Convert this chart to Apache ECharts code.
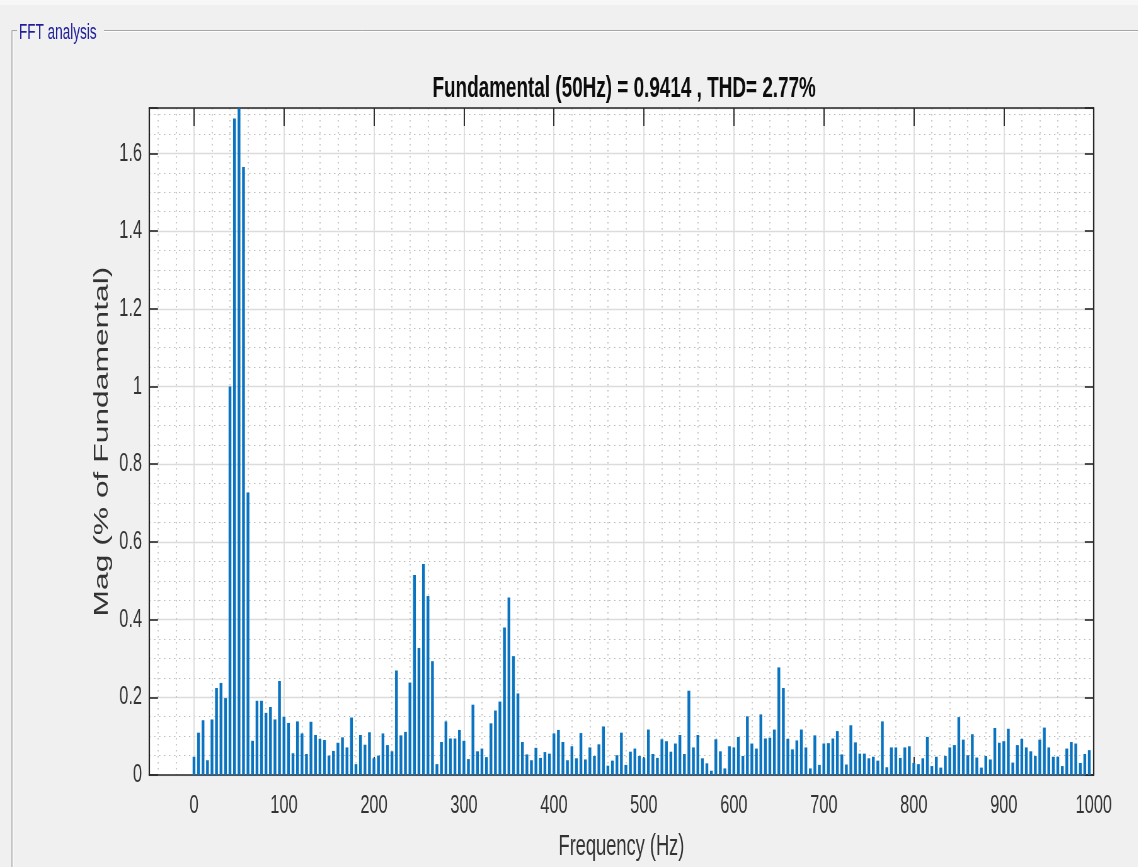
<!DOCTYPE html>
<html>
<head>
<meta charset="utf-8">
<script src="https://cdn.jsdelivr.net/npm/echarts@6/dist/echarts.min.js"></script>
<style>
  html, body { margin: 0; padding: 0; background: #f0f0f0; overflow: hidden; width: 1138px; height: 867px; }
  #chart { position: absolute; left: 0; top: 0; height: 867px; transform-origin: 0 0; }
</style>
</head>
<body>
<div id="chart"></div>
<script>
// FFT magnitude spectrum (% of fundamental), one value per 5 Hz bin, grouped per 100 Hz
const binHz = 5;
const mag000 = [0.047, 0.109, 0.141, 0.038, 0.143, 0.224, 0.237, 0.198, 1.000, 1.690, 1.717, 1.565, 0.727, 0.088, 0.191, 0.191, 0.160, 0.175, 0.143, 0.242];
const mag100 = [0.150, 0.134, 0.056, 0.138, 0.107, 0.054, 0.137, 0.103, 0.093, 0.090, 0.050, 0.062, 0.083, 0.097, 0.071, 0.148, 0.028, 0.103, 0.078, 0.110];
const mag200 = [0.043, 0.050, 0.107, 0.077, 0.061, 0.269, 0.102, 0.111, 0.238, 0.515, 0.327, 0.543, 0.461, 0.293, 0.028, 0.085, 0.138, 0.094, 0.094, 0.116];
const mag300 = [0.088, 0.041, 0.181, 0.061, 0.068, 0.046, 0.133, 0.166, 0.189, 0.380, 0.457, 0.306, 0.210, 0.085, 0.053, 0.038, 0.070, 0.044, 0.059, 0.055];
const mag400 = [0.107, 0.116, 0.085, 0.038, 0.074, 0.043, 0.108, 0.040, 0.071, 0.049, 0.079, 0.125, 0.024, 0.037, 0.051, 0.109, 0.026, 0.060, 0.068, 0.049];
const mag500 = [0.043, 0.117, 0.054, 0.044, 0.092, 0.087, 0.060, 0.081, 0.103, 0.054, 0.217, 0.071, 0.103, 0.043, 0.030, 0.011, 0.092, 0.061, 0.017, 0.074];
const mag600 = [0.071, 0.098, 0.049, 0.151, 0.081, 0.068, 0.156, 0.094, 0.096, 0.117, 0.277, 0.224, 0.093, 0.066, 0.089, 0.117, 0.071, 0.017, 0.102, 0.026];
const mag700 = [0.081, 0.082, 0.094, 0.113, 0.053, 0.027, 0.128, 0.084, 0.055, 0.055, 0.043, 0.047, 0.037, 0.138, 0.020, 0.071, 0.071, 0.044, 0.071, 0.074];
const mag800 = [0.031, 0.028, 0.043, 0.098, 0.023, 0.047, 0.019, 0.049, 0.071, 0.077, 0.149, 0.091, 0.051, 0.105, 0.045, 0.019, 0.049, 0.040, 0.121, 0.083];
const mag900 = [0.087, 0.119, 0.032, 0.077, 0.093, 0.071, 0.061, 0.049, 0.091, 0.122, 0.071, 0.047, 0.047, 0.023, 0.068, 0.085, 0.081, 0.031, 0.054, 0.064];

// Axis limits and tick steps
const xMin = -50, xMax = 1000, xStep = 100;
const yStep = 0.2;

const titleText = 'Fundamental (50Hz) = 0.9414 , THD= 2.77%';
const xName = 'Frequency (Hz)';
const yName = 'Mag (% of Fundamental)';
const panelTitle = 'FFT analysis';

const mag = [].concat(mag000, mag100, mag200, mag300, mag400, mag500, mag600, mag700, mag800, mag900);
const spectrum = mag.map((m, i) => [i * binHz, m]);
const yMax = Math.max.apply(null, mag);

// The figure is drawn on a wider canvas and compressed horizontally to the window width
const S = 0.63;
const W = Math.round(1138 / S);
const px = v => v / S;

const el = document.getElementById('chart');
el.style.width = W + 'px';
el.style.transform = 'scaleX(' + S + ')';

const FONT = '"Liberation Sans", Arial, Helvetica, sans-serif';
const DARK = '#262626';
const GRID = '#dcdcdc';
const MINOR = '#bababa';

const chart = echarts.init(el, null, { renderer: 'canvas', width: W, height: 867 });

const yFmt = v => {
  const k = v / yStep;
  if (Math.abs(k - Math.round(k)) > 1e-6) return '';
  return String(Math.round(v * 10) / 10);
};

chart.setOption({
  animation: false,
  backgroundColor: '#f0f0f0',
  textStyle: { fontFamily: FONT },
  title: {
    text: titleText,
    left: px(621),
    textAlign: 'center',
    top: 69,
    textStyle: { fontFamily: FONT, fontSize: 30, fontWeight: 'bold', color: '#0d0d0d' }
  },
  grid: {
    left: px(149), right: px(44), top: 108, bottom: 92,
    show: true, backgroundColor: '#ffffff', borderWidth: 0
  },
  xAxis: [
    {
      type: 'value', position: 'bottom', min: xMin, max: xMax,
      minInterval: xStep, maxInterval: xStep,
      axisLine: { show: true, onZero: false, lineStyle: { color: DARK, width: 1.6 } },
      axisTick: { show: true, inside: true, length: 18, lineStyle: { color: DARK, width: px(1.2) } },
      axisLabel: {
        show: true, margin: 18, fontSize: 26, color: '#333', fontFamily: FONT,
        formatter: v => (v < 0 ? '' : String(v))
      },
      splitLine: { show: true, lineStyle: { color: GRID, width: px(1.1) } },
      minorTick: { show: false, splitNumber: 5 },
      minorSplitLine: { show: true, lineStyle: { color: MINOR, width: px(1), type: [1.5, 4.5] } },
      name: xName, nameLocation: 'middle', nameGap: 57,
      nameTextStyle: { fontSize: 29, color: '#333', fontFamily: FONT }
    },
    {
      type: 'value', position: 'top', min: xMin, max: xMax,
      minInterval: xStep, maxInterval: xStep,
      axisLine: { show: true, onZero: false, lineStyle: { color: DARK, width: 1.6 } },
      axisTick: { show: true, inside: true, length: 18, lineStyle: { color: DARK, width: px(1.2) } },
      axisLabel: { show: false },
      splitLine: { show: false },
      minorSplitLine: { show: false }
    }
  ],
  yAxis: [
    {
      type: 'value', position: 'left', min: 0, max: yMax, interval: yStep,
      axisLine: { show: true, onZero: false, lineStyle: { color: DARK, width: px(1.4) } },
      axisTick: { show: true, inside: true, length: px(9), lineStyle: { color: DARK, width: 1.6 } },
      axisLabel: { show: true, margin: px(7), fontSize: 26, color: '#333', fontFamily: FONT, formatter: yFmt },
      splitLine: { show: true, lineStyle: { color: GRID, width: 1.3 } },
      minorTick: { show: false, splitNumber: 4 },
      minorSplitLine: { show: true, lineStyle: { color: MINOR, width: 1, type: [px(1.4), px(3.6)] } },
      name: yName, nameLocation: 'middle', nameGap: 57,
      nameTextStyle: { fontSize: 31.8, color: '#333', fontFamily: FONT }
    },
    {
      type: 'value', position: 'right', min: 0, max: yMax, interval: yStep,
      axisLine: { show: true, onZero: false, lineStyle: { color: DARK, width: px(1.4) } },
      axisTick: { show: true, inside: true, length: px(9), lineStyle: { color: DARK, width: 1.6 } },
      axisLabel: { show: false },
      splitLine: { show: false },
      minorSplitLine: { show: false }
    }
  ],
  series: [
    {
      type: 'bar',
      name: 'Magnitude',
      xAxisIndex: 0, yAxisIndex: 0,
      data: spectrum,
      barWidth: px(2.8),
      itemStyle: { color: '#0a74c0' },
      z: 3
    }
  ],
  graphic: [
    { type: 'rect', silent: true, z: -10, shape: { x: 0, y: 0, width: W, height: 5 }, style: { fill: '#f7f7f7' } },
    // etched frame of the surrounding panel
    { type: 'line', silent: true, shape: { x1: px(12), y1: 30.5, x2: px(12), y2: 867 }, style: { stroke: '#a6a6a6', lineWidth: px(1) } },
    { type: 'line', silent: true, shape: { x1: px(13), y1: 31.5, x2: px(13), y2: 867 }, style: { stroke: '#ffffff', lineWidth: px(1) } },
    { type: 'line', silent: true, shape: { x1: px(12), y1: 30.5, x2: px(17), y2: 30.5 }, style: { stroke: '#a6a6a6', lineWidth: 1 } },
    { type: 'line', silent: true, shape: { x1: px(104), y1: 30.5, x2: W, y2: 30.5 }, style: { stroke: '#a6a6a6', lineWidth: 1 } },
    { type: 'line', silent: true, shape: { x1: px(104), y1: 31.5, x2: W, y2: 31.5 }, style: { stroke: '#ffffff', lineWidth: 1 } },
    {
      type: 'text', silent: true, x: px(19), y: 33,
      style: { text: panelTitle, fontSize: 21.5, fontFamily: FONT, fill: '#1e1e98', verticalAlign: 'middle', align: 'left' }
    }
  ]
});
</script>
</body>
</html>
